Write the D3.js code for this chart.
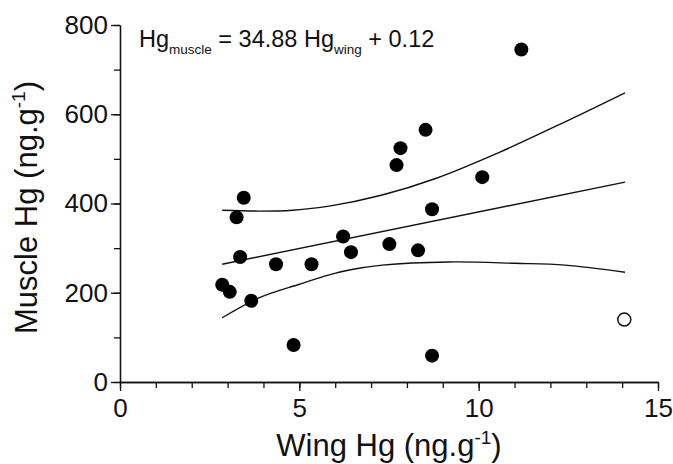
<!DOCTYPE html>
<html>
<head>
<meta charset="utf-8">
<script src="https://cdn.jsdelivr.net/npm/d3@7"></script>
<style>
  body { margin: 0; background: #fff; }
  svg { display: block; font-family: "Liberation Sans", Arial, Helvetica, sans-serif; }
</style>
</head>
<body>
<div id="chart"></div>
<script>
// measured samples (wing Hg, muscle Hg)
const wingHg = [7.71, 3.45, 3.25, 8.70, 6.22, 3.35, 6.44, 7.51, 8.31, 4.35, 5.34, 2.85, 3.06, 3.66, 4.84, 8.70, 11.19, 8.52, 7.82, 10.10];
const muscleHg = [486, 413, 369, 387, 326, 280, 291, 309, 295, 264, 264, 218, 202, 182, 83, 59, 745, 565, 524, 459];

// outlier, drawn as open circle
const outlierWing = [14.06];
const outlierMuscle = [140];

// regression line and confidence band
const fitX = [2.85, 14.08];
const fitY = [264, 448];
const bandX = [2.85, 3.89, 4.81, 5.83, 7.31, 8.80, 10.56, 12.41, 14.08];
const upperY = [385, 383, 385, 394, 419, 456, 514, 583, 648];
const lowerX = [2.85, 3.89, 5.00, 5.83, 6.39, 7.31, 9.17, 11.02, 12.41, 14.08];
const lowerY = [144, 189, 219, 240, 251, 262, 269, 266, 262, 246];

const xMajor = [0, 5, 10, 15];
const xMinor = d3.range(0, 16, 1);
const yMajor = [0, 200, 400, 600, 800];
const yMinor = d3.range(0, 801, 100);

const width = 673, height = 464;

const svg = d3.select("#chart")
  .append("svg")
  .attr("width", width)
  .attr("height", height);

const x = d3.scaleLinear().domain([0, 15]).range([120, 658]);
const y = d3.scaleLinear().domain([0, 800]).range([382, 25]);

// minor ticks first, then major ones with labels
svg.append("g")
  .attr("transform", `translate(0,${y(0)})`)
  .call(d3.axisBottom(x).tickValues(xMinor).tickSize(6).tickSizeOuter(0).tickFormat(""));
svg.append("g")
  .attr("class", "xaxis")
  .attr("transform", `translate(0,${y(0)})`)
  .call(d3.axisBottom(x).tickValues(xMajor).tickSize(9).tickSizeOuter(0).tickPadding(8).tickFormat(d3.format("d")));

svg.append("g")
  .attr("transform", `translate(${x(0)},0)`)
  .call(d3.axisLeft(y).tickValues(yMinor).tickSize(6).tickSizeOuter(0).tickFormat(""));
svg.append("g")
  .attr("class", "yaxis")
  .attr("transform", `translate(${x(0)},0)`)
  .call(d3.axisLeft(y).tickValues(yMajor).tickSize(9).tickSizeOuter(0).tickPadding(3).tickFormat(d3.format("d")));

svg.selectAll(".domain, .tick line")
  .attr("stroke", "#111")
  .attr("stroke-width", 1.3);
svg.selectAll(".tick text")
  .attr("fill", "#111")
  .style("font-family", "'Liberation Sans', Arial, sans-serif")
  .style("font-size", "26px");

// lines
const line = d3.line()
  .x(d => x(d[0]))
  .y(d => y(d[1]))
  .curve(d3.curveCatmullRom);

const lines = [
  d3.zip(fitX, fitY),
  d3.zip(bandX, upperY),
  d3.zip(lowerX, lowerY)
];
svg.selectAll(".fit")
  .data(lines)
  .join("path")
  .attr("class", "fit")
  .attr("d", line)
  .attr("fill", "none")
  .attr("stroke", "#111")
  .attr("stroke-width", 1.4);

// points
svg.selectAll(".dot")
  .data(d3.zip(wingHg, muscleHg))
  .join("circle")
  .attr("class", "dot")
  .attr("cx", d => x(d[0]))
  .attr("cy", d => y(d[1]))
  .attr("r", 7)
  .attr("fill", "#000");

svg.selectAll(".open")
  .data(d3.zip(outlierWing, outlierMuscle))
  .join("circle")
  .attr("class", "open")
  .attr("cx", d => x(d[0]))
  .attr("cy", d => y(d[1]))
  .attr("r", 6.5)
  .attr("fill", "#fff")
  .attr("stroke", "#111")
  .attr("stroke-width", 1.5);

// axis titles
const xt = svg.append("text")
  .attr("x", (x(0) + x(15)) / 2)
  .attr("y", 456)
  .attr("text-anchor", "middle")
  .attr("fill", "#111")
  .style("font-size", "31px");
xt.append("tspan").text("Wing Hg (ng.g");
xt.append("tspan").attr("dy", -12).style("font-size", "19px").text("-1");
xt.append("tspan").attr("dy", 12).text(")");

const yt = svg.append("text")
  .attr("transform", `translate(37,${(y(0) + y(800)) / 2 + 4}) rotate(-90)`)
  .attr("text-anchor", "middle")
  .attr("fill", "#111")
  .style("font-size", "31px");
yt.append("tspan").text("Muscle Hg (ng.g");
yt.append("tspan").attr("dy", -12).style("font-size", "19px").text("-1");
yt.append("tspan").attr("dy", 12).text(")");

// equation
const eq = svg.append("text")
  .attr("x", 139)
  .attr("y", 47)
  .attr("fill", "#111")
  .style("font-size", "23.5px");
eq.append("tspan").text("Hg");
eq.append("tspan").attr("dy", 7).style("font-size", "13.5px").text("muscle");
eq.append("tspan").attr("dy", -7).text(" = 34.88 Hg");
eq.append("tspan").attr("dy", 7).style("font-size", "13.5px").text("wing");
eq.append("tspan").attr("dy", -7).text(" + 0.12");
</script>
</body>
</html>
